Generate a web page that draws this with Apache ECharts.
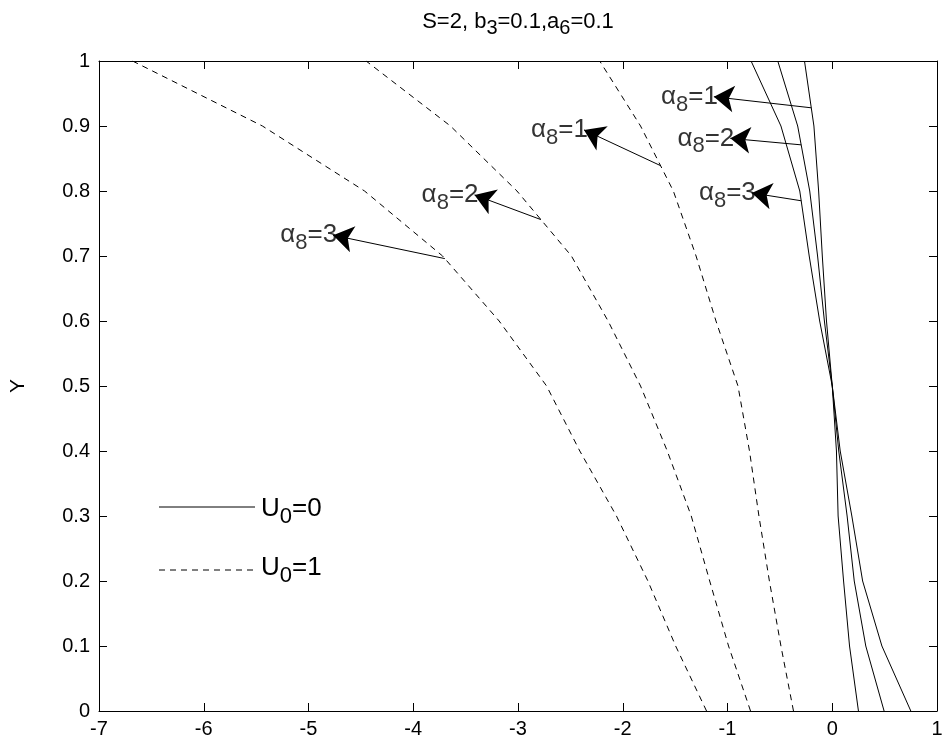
<!DOCTYPE html>
<html>
<head>
<meta charset="utf-8">
<script src="https://cdn.jsdelivr.net/npm/echarts@6/dist/echarts.min.js"></script>
<style>html,body{margin:0;background:#fff}#main{width:951px;height:747px}</style>
</head>
<body>
<div id="main"></div>
<script>
// Y grid shared by every curve
var yPts = [0, 0.1, 0.2, 0.3, 0.4, 0.5, 0.6, 0.7, 0.8, 0.9, 1];
// U0=0 (solid), alpha8 = 1, 2, 3
var solidA1 = [0.25, 0.165, 0.108, 0.056, 0.04, 0, -0.055, -0.095, -0.13, -0.175, -0.265];
var solidA2 = [0.495, 0.32, 0.21, 0.142, 0.062, 0, -0.075, -0.14, -0.215, -0.33, -0.52];
var solidA3 = [0.75, 0.474, 0.29, 0.187, 0.076, 0, -0.12, -0.22, -0.31, -0.49, -0.775];
// U0=1 (dashed), alpha8 = 1, 2, 3
var dashA1 = [-0.37, -0.49, -0.60, -0.70, -0.79, -0.90, -1.11, -1.30, -1.517, -1.83, -2.22];
var dashA2 = [-0.78, -0.99, -1.17, -1.346, -1.575, -1.83, -2.14, -2.49, -3.01, -3.645, -4.45];
var dashA3 = [-1.20, -1.495, -1.76, -2.06, -2.41, -2.727, -3.18, -3.72, -4.465, -5.44, -6.68];

var curves = [solidA1, solidA2, solidA3, dashA1, dashA2, dashA3];

// annotation arrows: Y where the arrow leaves its curve, arrow tip, label
var annTailY = [0.928, 0.871, 0.785, 0.839, 0.756, 0.696];
var annTipX = [-1.13, -0.973, -0.768, -2.37, -3.415, -4.765];
var annTipY = [0.945, 0.881, 0.797, 0.894, 0.794, 0.732];
var annAlpha = ['1', '2', '3', '1', '2', '3'];

var FONT = 'Liberation Sans, Arial, Helvetica, sans-serif';

function xAt(xs, y) {
  for (var i = 0; i < yPts.length - 1; i++) {
    if (y >= yPts[i] && y <= yPts[i + 1]) {
      var t = (y - yPts[i]) / (yPts[i + 1] - yPts[i]);
      return xs[i] + t * (xs[i + 1] - xs[i]);
    }
  }
  return xs[xs.length - 1];
}

function toPairs(xs) {
  return xs.map(function (x, i) { return [x, yPts[i]]; });
}

var chart = echarts.init(document.getElementById('main'));

var annRich = {
  a: { fontSize: 26, lineHeight: 38, color: '#000', fontFamily: FONT },
  s: { fontSize: 22, lineHeight: 18, verticalAlign: 'bottom', color: '#000', fontFamily: FONT }
};

var series = [];
curves.forEach(function (xs, k) {
  series.push({
    type: 'line',
    data: toPairs(xs),
    symbol: 'none',
    silent: true,
    lineStyle: { color: '#000', width: 1, type: k < 3 ? 'solid' : [6, 5] }
  });
});

var arrowData = [];
var labelData = [];
annTailY.forEach(function (ty, i) {
  arrowData.push({ coords: [[xAt(curves[i], ty), ty], [annTipX[i], annTipY[i]]] });
  labelData.push({ value: [annTipX[i], annTipY[i]], alpha: annAlpha[i] });
});

series.push({
  type: 'lines',
  coordinateSystem: 'cartesian2d',
  data: arrowData,
  symbol: ['none', 'arrow'],
  symbolSize: 20,
  silent: true,
  lineStyle: { color: '#000', width: 1, opacity: 1, curveness: 0 },
  z: 5
});

series.push({
  type: 'scatter',
  data: labelData,
  symbolSize: 0,
  silent: true,
  label: {
    show: true,
    position: 'left',
    distance: -4,
    color: '#000',
    formatter: function (p) { return '{a|α}{s|8}{a|=' + p.data.alpha + '}'; },
    rich: annRich
  }
});

function axisCommon() {
  return {
    axisLine: { onZero: false, lineStyle: { color: '#000', width: 1 } },
    axisTick: { inside: true, length: 8, lineStyle: { color: '#000' } },
    splitLine: { show: false }
  };
}

chart.setOption({
  animation: false,
  backgroundColor: '#fff',
  title: {
    text: '{a|S=2, b}{s|3}{a|=0.1,a}{s|6}{a|=0.1}',
    left: 513,
    top: 1,
    textAlign: 'center',
    textStyle: {
      fontWeight: 'normal',
      rich: {
        a: { fontSize: 22, lineHeight: 32, color: '#000', fontWeight: 'normal', fontFamily: FONT },
        s: { fontSize: 20, lineHeight: 18, verticalAlign: 'bottom', color: '#000', fontWeight: 'normal', fontFamily: FONT }
      }
    }
  },
  grid: { left: 93, right: 14, top: 61, bottom: 36 },
  xAxis: [
    Object.assign(axisCommon(), {
      type: 'value', min: -7, max: 1, interval: 1, position: 'bottom',
      axisLabel: { color: '#000', fontSize: 20, fontFamily: FONT, margin: 8 }
    }),
    Object.assign(axisCommon(), {
      type: 'value', min: -7, max: 1, interval: 1, position: 'top',
      axisLabel: { show: false }
    })
  ],
  yAxis: [
    Object.assign(axisCommon(), {
      type: 'value', min: 0, max: 1, interval: 0.1, position: 'left',
      name: 'Y', nameLocation: 'middle', nameGap: 70, nameRotate: 90,
      nameTextStyle: { color: '#000', fontSize: 21, fontFamily: FONT },
      axisLabel: { color: '#000', fontSize: 20, fontFamily: FONT, margin: 9 }
    }),
    Object.assign(axisCommon(), {
      type: 'value', min: 0, max: 1, interval: 0.1, position: 'right',
      axisLabel: { show: false }
    })
  ],
  graphic: [
    { type: 'line', shape: { x1: 159, y1: 507, x2: 255, y2: 507 }, style: { stroke: '#000', lineWidth: 1 } },
    { type: 'text', x: 261, y: 509, style: { text: '{a|U}{s|0}{a|=0}', rich: annRich, fill: '#000', verticalAlign: 'middle' } },
    { type: 'line', shape: { x1: 159, y1: 570, x2: 255, y2: 570 }, style: { stroke: '#000', lineWidth: 1, lineDash: [6, 5] } },
    { type: 'text', x: 261, y: 568, style: { text: '{a|U}{s|0}{a|=1}', rich: annRich, fill: '#000', verticalAlign: 'middle' } }
  ],
  series: series
});
</script>
</body>
</html>
